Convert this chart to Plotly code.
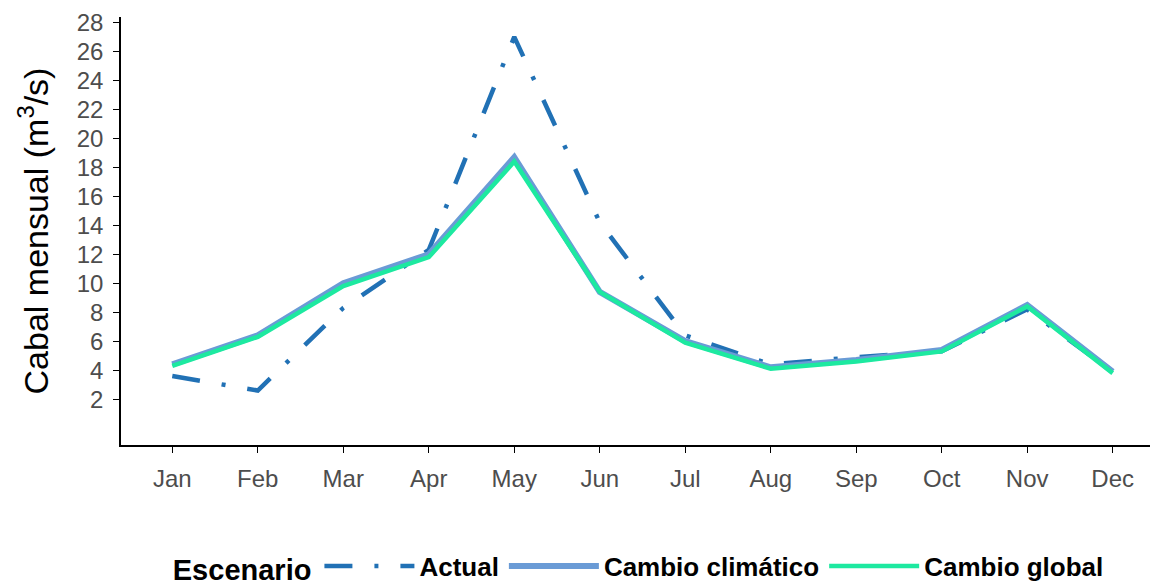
import plotly.graph_objects as go

months = ["Jan", "Feb", "Mar", "Apr", "May", "Jun", "Jul", "Aug", "Sep", "Oct", "Nov", "Dec"]
actual = [3.6, 2.6, 8.3, 12.3, 27.0, 14.2, 6.4, 4.4, 4.9, 5.3, 8.2, 3.9]
cambio_climatico = [4.4, 6.4, 10.0, 12.0, 18.7, 9.4, 6.0, 4.2, 4.7, 5.4, 8.5, 3.9]
cambio_global = [4.3, 6.3, 9.8, 11.8, 18.4, 9.4, 5.9, 4.1, 4.6, 5.3, 8.4, 3.8]
y_ticks = list(range(2, 29, 2))

fig = go.Figure()
fig.add_trace(go.Scatter(x=months, y=actual, mode="lines", name="<b>Actual</b>",
                         line=dict(color="#2171b5", width=4.5, dash="28px,22px,4px,22px")))
fig.add_trace(go.Scatter(x=months, y=cambio_climatico, mode="lines", name="<b>Cambio climático</b>",
                         line=dict(color="#6a9bd6", width=6)))
fig.add_trace(go.Scatter(x=months, y=cambio_global, mode="lines", name="<b>Cambio global</b>",
                         line=dict(color="#1de9a0", width=4.5)))

# page body has an 8px margin, so the figure is drawn at (8, 8)
fig.update_layout(
    width=1150, height=577,
    paper_bgcolor="white", plot_bgcolor="white",
    margin=dict(l=113, r=0, t=9, b=140, autoexpand=False),
    font=dict(family="Liberation Sans, Arial, sans-serif", color="#222222"),
    showlegend=True,
    legend=dict(orientation="h", x=0.048, xanchor="left", y=-0.284, yanchor="middle",
                title=dict(text="<b>Escenario</b>", font=dict(size=29, color="black")),
                font=dict(size=26, color="black"), itemwidth=90, tracegroupgap=0),
    xaxis=dict(type="category", range=[-0.6, 11.53], showline=True, linecolor="black",
               linewidth=1.5, ticks="outside", ticklen=6, tickcolor="black", automargin=False,
               ticklabelstandoff=5,
               tickfont=dict(size=24, color="#4d4d4d"), showgrid=False, zeroline=False),
    yaxis=dict(range=[-1.16, 28.37], tickvals=y_ticks, showline=True, linecolor="black",
               linewidth=1.5, ticks="outside", ticklen=6, tickcolor="black", automargin=False,
               ticklabelstandoff=5,
               tickfont=dict(size=24, color="#4d4d4d"), showgrid=False, zeroline=False,
               title=dict(text="Cabal mensual (m<sup>3</sup>/s)", font=dict(size=34, color="black"),
                          standoff=18)),
)

fig.write_html("out.html")
